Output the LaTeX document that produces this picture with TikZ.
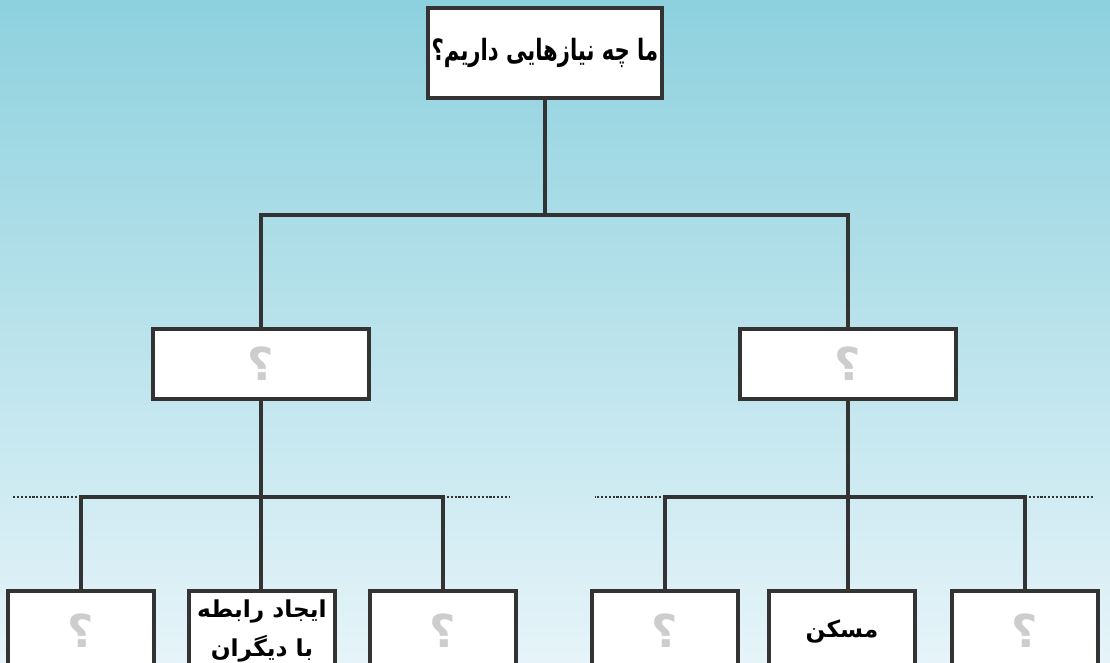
\documentclass[tikz,border=0pt]{standalone}
\usepackage{fontspec}
\newfontfamily\arabicfont[Script=Arabic]{DejaVu Sans}
\newfontfamily\arabicnarrow[Script=Arabic,FakeStretch=0.72]{DejaVu Sans}
\TeXXeTstate=1
\definecolor{bgtop}{HTML}{8DD1DE}
\definecolor{bgbot}{HTML}{E6F4F9}
\definecolor{qgray}{HTML}{CDCDCD}
\definecolor{edge}{HTML}{333333}
\tikzset{
  box/.style={draw=edge, line width=2.4pt, fill=white, inner sep=0.75pt, align=center},
  topbox/.style={box, minimum width=175.5pt, minimum height=67.5pt, font=\arabicnarrow\bfseries\fontsize{22}{26}\selectfont},
  midbox/.style={box, minimum width=162pt, minimum height=52.5pt, text=qgray, font=\arabicfont\bfseries\fontsize{34}{36}\selectfont},
  leafbox/.style={box, minimum width=109.5pt, minimum height=60pt, font=\arabicfont\bfseries\fontsize{17.5}{29}\selectfont},
  askbox/.style={leafbox, text=qgray, font=\arabicfont\bfseries\fontsize{34}{36}\selectfont},
  link/.style={draw=edge, line width=2.4pt},
  stub/.style={draw=edge, line width=1.6pt, dash pattern=on 1.6pt off 1.3pt}
}
\begin{document}
\begin{tikzpicture}[x=0.75pt,y=0.75pt,yscale=-1,xscale=1]
    \clip (0,0) rectangle (1110,662);
    %Shape: Background
    \shade[top color=bgtop, bottom color=bgbot] (0,0) rectangle (1110,662);

    %Junctions
    \coordinate (j0) at (545,215);
    \coordinate (jl) at (261,497);
    \coordinate (jr) at (848,497);
    \coordinate (sl1) at (13,497);
    \coordinate (sl2) at (510,497);
    \coordinate (sr1) at (595,497);
    \coordinate (sr2) at (1093,497);

    % Text Node
    \node [topbox] (needs) at (545,53) {\beginR ما چه نیازهایی داریم؟\endR};
    % Text Node
    \node [midbox] (left) at (261,364) {؟};
    % Text Node
    \node [midbox] (right) at (848,364) {؟};
    % Text Node
    \node [askbox] (l1) at (81,631) {؟};
    % Text Node
    \node [leafbox] (l2) at (262,631) {\beginR ایجاد رابطه\endR\\\beginR با دیگران\endR};
    % Text Node
    \node [askbox] (l3) at (443,631) {؟};
    % Text Node
    \node [askbox] (r1) at (665,631) {؟};
    % Text Node
    \node [leafbox] (r2) at (842,631) {\beginR مسکن\endR};
    % Text Node
    \node [askbox] (r3) at (1025,631) {؟};

    %Straight Lines
    \draw [link] (needs.south) -- (j0);
    \draw [link] (left.north) |- (j0) -| (right.north);
    \draw [link] (left.south) -- (jl);
    \draw [link] (l1.north) |- (jl) -| (l3.north);
    \draw [link] (jl) -- (jl |- l2.north);
    \draw [link] (right.south) -- (jr);
    \draw [link] (r1.north) |- (jr) -| (r3.north);
    \draw [link] (jr) -- (jr |- r2.north);
    %Dotted Lines
    \draw [stub] (l1.north |- jl) -- (sl1);
    \draw [stub] (l3.north |- jl) -- (sl2);
    \draw [stub] (r1.north |- jr) -- (sr1);
    \draw [stub] (r3.north |- jr) -- (sr2);
\end{tikzpicture}
\end{document}
